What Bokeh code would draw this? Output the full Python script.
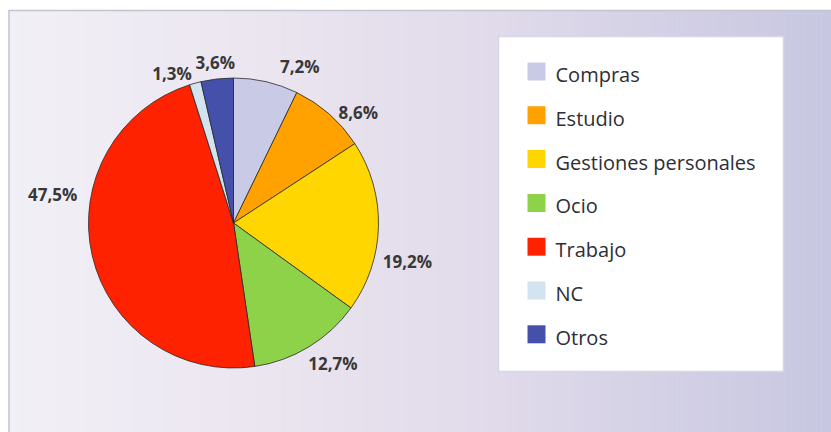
import numpy as np
from bokeh.plotting import figure
from bokeh.models import ColumnDataSource, Range1d
from bokeh.embed import file_html
from bokeh.resources import INLINE
from bokeh.core.properties import value

# ---- data ----
categories = ["Compras", "Estudio", "Gestiones personales", "Ocio", "Trabajo", "NC", "Otros"]
shares = [7.2, 8.6, 19.2, 12.7, 47.5, 1.3, 3.6]
labels = ["7,2%", "8,6%", "19,2%", "12,7%", "47,5%", "1,3%", "3,6%"]
colors = ["#c9cae6", "#ffa200", "#ffd600", "#8ed24a", "#ff2200", "#d3e3f0", "#4450aa"]

# ---- style / layout ----
W, H = 831, 432
label_shift_deg = [10, 7, 11, -4, 22, -7, 0]      # label nudges around the pie
label_dist = [170, 167, 178, 172, 183, 162, 162]   # label distance from center (px)

def px(x):  # page x -> data x
    return x

def py(y):  # page y -> data y
    return H - y

p = figure(width=W, height=H, x_range=Range1d(0, W), y_range=Range1d(0, H),
           output_backend="svg", toolbar_location=None, min_border=0,
           x_axis_type=None, y_axis_type=None)
p.grid.visible = False
p.outline_line_color = None
p.background_fill_color = "white"
p.border_fill_color = "white"

# ---- background gradient ----
stops_x = [0.0, 0.35, 0.6, 1.0]
stops_c = [(242, 240, 247), (234, 228, 239), (224, 218, 234), (199, 199, 225)]
n = 160
x0, x1 = 8, W
edges = np.linspace(x0, x1, n + 1)
mids = (edges[:-1] + edges[1:]) / 2 / W
cols = []
for m in mids:
    c = [int(round(np.interp(m, stops_x, [s[k] for s in stops_c]))) for k in range(3)]
    cols.append("#%02x%02x%02x" % tuple(c))
p.quad(left=edges[:-1], right=edges[1:] + 0.6, bottom=0, top=py(10),
       fill_color=cols, line_color=None)
# frame lines
p.segment(x0=[8.5, 8], y0=[0, py(10)], x1=[8.5, W], y1=[py(10), py(10)],
          line_color="#c4c4cc", line_width=1.5)

# ---- pie ----
cx, cy, r = px(233), py(222.5), 145
total = sum(shares)
frac = np.array(shares) / total
cum = np.concatenate([[0], np.cumsum(frac)])
start = np.pi / 2 - cum[:-1] * 2 * np.pi
end = np.pi / 2 - cum[1:] * 2 * np.pi
src = ColumnDataSource(dict(start=start, end=end, color=colors, cat=categories))
p.wedge(x=cx, y=cy, radius=r, radius_units="screen", start_angle="start", end_angle="end",
        direction="clock", fill_color="color", line_color="#2a2a2a", line_width=0.8, source=src)

# ---- labels ----
mid = (cum[:-1] + cum[1:]) / 2 * 2 * np.pi + np.radians(label_shift_deg)
lx = cx + np.array(label_dist) * np.sin(mid)
ly = cy + np.array(label_dist) * np.cos(mid)
p.text(x=lx, y=ly, text=labels, text_align="center", text_baseline="middle",
       text_font=value("Open Sans"), text_font_size="17px", text_font_style="bold",
       text_color="#383838")

# ---- legend ----
p.quad(left=px(498), right=px(783), top=py(36), bottom=py(371),
       fill_color="white", line_color="#d6d6e6", line_width=1.5)
idx = np.arange(len(categories))
item_y = py(71 + idx * 43.8)
p.rect(x=px(536), y=item_y, width=18, height=18, fill_color=colors, line_color=None)
p.text(x=px(555), y=item_y - 3, text=categories, text_align="left", text_baseline="alphabetic",
       text_font=value("Open Sans"), text_font_size="20px", text_color="#2e2e34")

open("out.html", "w").write(file_html(p, INLINE))
